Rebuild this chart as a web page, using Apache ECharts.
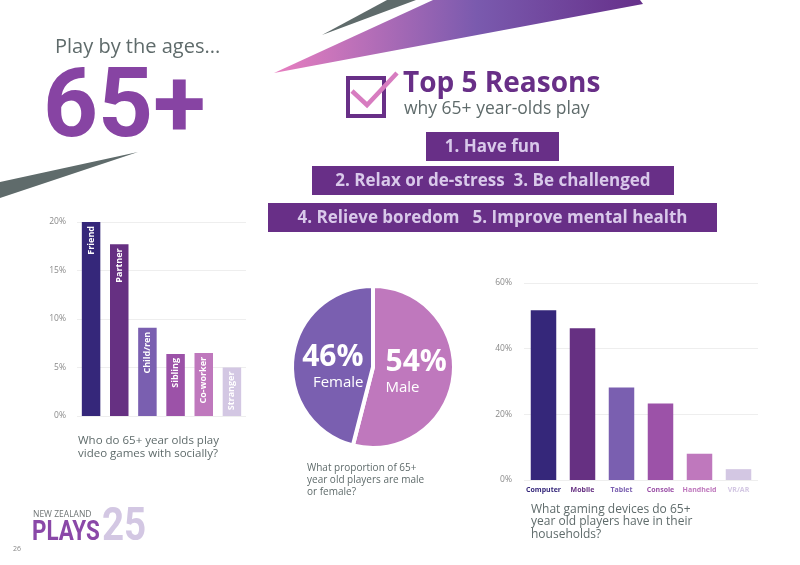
<!DOCTYPE html>
<html>
<head>
<meta charset="utf-8">
<script src="https://cdn.jsdelivr.net/npm/echarts/dist/echarts.min.js"></script>
<style>
  html, body { margin: 0; padding: 0; background: #fff; }
  #main { width: 800px; height: 565px; }
</style>
</head>
<body>
<div id="main"></div>
<script>
  // who they play with socially
  var socialCats = ['Friend', 'Partner', 'Child/ren', 'Sibling', 'Co-worker', 'Stranger'];
  var socialVals = [20.0, 17.7, 9.1, 6.4, 6.5, 5.0];
  // gender split
  var genderNames = ['Male', 'Female'];
  var genderVals = [54, 46];
  // devices in household
  var deviceCats = ['Computer', 'Mobile', 'Tablet', 'Console', 'Handheld', 'VR/AR'];
  var deviceVals = [51.7, 46.2, 28.2, 23.3, 8.0, 3.3];
  // reasons
  var reasonRows = ['1. Have fun', '2. Relax or de-stress  3. Be challenged', '4. Relieve boredom   5. Improve mental health'];

  var palette = ['#35277a', '#663082', '#7a5fb0', '#9c52a8', '#bf78bd', '#d3c7e3'];
  var grey = '#5f6b6b';
  var font = '"Open Sans", Lato, sans-serif';

  var myChart = echarts.init(document.getElementById('main'));

  function boxes() {
    var rects = [[426, 132, 133, 29], [312, 166, 362, 29], [268, 203, 449, 29]];
    var out = [];
    reasonRows.forEach(function (t, i) {
      var r = rects[i];
      out.push({type: 'rect', shape: {x: r[0], y: r[1], width: r[2], height: r[3]}, style: {fill: '#682f87'}});
      out.push({type: 'text', x: r[0] + r[2] / 2, y: r[1] + r[3] / 2 + 1,
        style: {text: t, fill: '#d9c9ea', font: 'bold 17px ' + font, textAlign: 'center', textVerticalAlign: 'middle'}});
    });
    return out;
  }

  var deco = [
    // slivers
    {type: 'polygon', shape: {points: [[0, 182], [138, 152], [0, 198]]}, style: {fill: '#5f6b6b'}},
    {type: 'polygon', shape: {points: [[322, 35], [387, 0], [416, 0]]}, style: {fill: '#5f6b6b'}},
    {type: 'polygon', shape: {points: [[274, 73], [433, 0], [640, 0], [643, 4]]},
      style: {fill: new echarts.graphic.LinearGradient(0, 0, 1, 0, [
        {offset: 0, color: '#e87fc0'}, {offset: 0.55, color: '#7a5aae'}, {offset: 1, color: '#66308a'}])}},
    // header
    {type: 'text', x: 55, y: 47, style: {text: 'Play by the ages...', fill: grey, font: '20px ' + font, textVerticalAlign: 'middle'}},
    {type: 'text', x: 43, y: 112, style: {text: '65+', fill: '#8744a3', font: 'bold 96px Roboto, sans-serif', textVerticalAlign: 'middle'}},
    // check box
    {type: 'rect', shape: {x: 348, y: 78, width: 36, height: 38}, style: {fill: 'none', stroke: '#682f87', lineWidth: 4}},
    {type: 'polyline', shape: {points: [[352, 91], [367, 105], [397, 73]]}, style: {stroke: '#d77cc0', lineWidth: 4.5, fill: 'none'}},
    {type: 'text', x: 403, y: 84, style: {text: 'Top 5 Reasons', fill: '#682f87', font: 'bold 28px ' + font, textVerticalAlign: 'middle'}},
    {type: 'text', x: 404, y: 109, style: {text: 'why 65+ year-olds play', fill: grey, font: '17.5px ' + font, textVerticalAlign: 'middle'}},
    // logo
    {type: 'text', x: 102, y: 528, scaleX: 0.82, style: {text: '25', fill: '#d3c7e3', font: 'bold 47px Roboto, sans-serif', textVerticalAlign: 'middle'}},
    {type: 'text', x: 33, y: 515, style: {text: 'NEW ZEALAND', fill: '#6e7474', font: '8.5px ' + font, textVerticalAlign: 'middle'}},
    {type: 'text', x: 32, y: 533, scaleX: 0.8, style: {text: 'PLAYS', fill: '#8a48a8', font: 'bold 28px Roboto, sans-serif', textVerticalAlign: 'middle'}},
    {type: 'text', x: 13, y: 549, style: {text: '26', fill: '#888', font: '7px ' + font, textVerticalAlign: 'middle'}}
  ].concat(boxes());

  var option = {
    animation: false,
    backgroundColor: '#fff',
    textStyle: {fontFamily: font},
    graphic: deco,
    title: [
      {text: 'Who do 65+ year olds play\nvideo games with socially?', left: 78, top: 434, padding: 0,
        textStyle: {fontSize: 11.5, fontWeight: 'normal', color: grey, lineHeight: 13}},
      {text: 'What proportion of 65+\nyear old players are male\nor female?', left: 307, top: 462, padding: 0,
        textStyle: {fontSize: 10, fontWeight: 'normal', color: grey, lineHeight: 12}},
      {text: 'What gaming devices do 65+\nyear old players have in their\nhouseholds?', left: 531, top: 503, padding: 0,
        textStyle: {fontSize: 12, fontWeight: 'normal', color: grey, lineHeight: 12.5}}
    ],
    grid: [
      {left: 77, top: 222, width: 169, height: 194},
      {left: 524, top: 283, width: 234, height: 197}
    ],
    xAxis: [
      {type: 'category', gridIndex: 0, data: socialCats,
        axisLine: {show: false}, axisTick: {show: false}, axisLabel: {show: false}},
      {type: 'category', gridIndex: 1, data: deviceCats,
        axisLine: {show: false}, axisTick: {show: false},
        axisLabel: {interval: 0, margin: 6, fontSize: 7, fontWeight: 'bold',
          color: function (v) { return palette[deviceCats.indexOf(v)]; }}}
    ],
    yAxis: [
      {type: 'value', gridIndex: 0, min: 0, max: 20, interval: 5,
        axisLine: {show: false}, axisTick: {show: false},
        axisLabel: {formatter: '{value}%', fontSize: 8.5, color: '#8a8a8a', margin: 11},
        splitLine: {lineStyle: {color: '#eeeeee', width: 1}}},
      {type: 'value', gridIndex: 1, min: 0, max: 60, interval: 20,
        axisLine: {show: false}, axisTick: {show: false},
        axisLabel: {formatter: '{value}%', fontSize: 8.5, color: '#8a8a8a', margin: 12},
        splitLine: {lineStyle: {color: '#eeeeee', width: 1}}}
    ],
    series: [
      {
        type: 'bar', xAxisIndex: 0, yAxisIndex: 0, barWidth: 18.5,
        data: socialVals.map(function (v, i) {
          return {value: v, itemStyle: {color: palette[i]}};
        }),
        label: {
          show: true, position: 'insideTop', rotate: 90, align: 'right', verticalAlign: 'middle',
          distance: 4, formatter: '{b}', color: '#fff', fontSize: 9, fontWeight: 'bold'
        }
      },
      {
        type: 'bar', xAxisIndex: 1, yAxisIndex: 1, barWidth: 25.5,
        data: deviceVals.map(function (v, i) {
          return {value: v, itemStyle: {color: palette[i]}};
        })
      },
      {
        type: 'pie', center: [373, 367], radius: 81, startAngle: 90, clockwise: true,
        itemStyle: {borderColor: '#fff', borderWidth: 4},
        labelLine: {show: false},
        data: genderNames.map(function (n, i) {
          var fem = n === 'Female';
          var al = fem ? 'right' : 'left';
          return {
            name: n, value: genderVals[i],
            itemStyle: {color: fem ? palette[2] : palette[4]},
            label: {
              show: true, position: 'inside', offset: fem ? [3, 5] : [0, -1],
              formatter: function (p) { return '{p|' + p.value + '%}\n{n|' + p.name + '}'; },
              rich: {
                p: {fontSize: 30, fontWeight: 'bold', color: '#fff', align: al, lineHeight: 32},
                n: {fontSize: 15, color: '#fff', align: al, lineHeight: 18}
              }
            }
          };
        })
      }
    ]
  };

  myChart.setOption(option);
</script>
</body>
</html>
